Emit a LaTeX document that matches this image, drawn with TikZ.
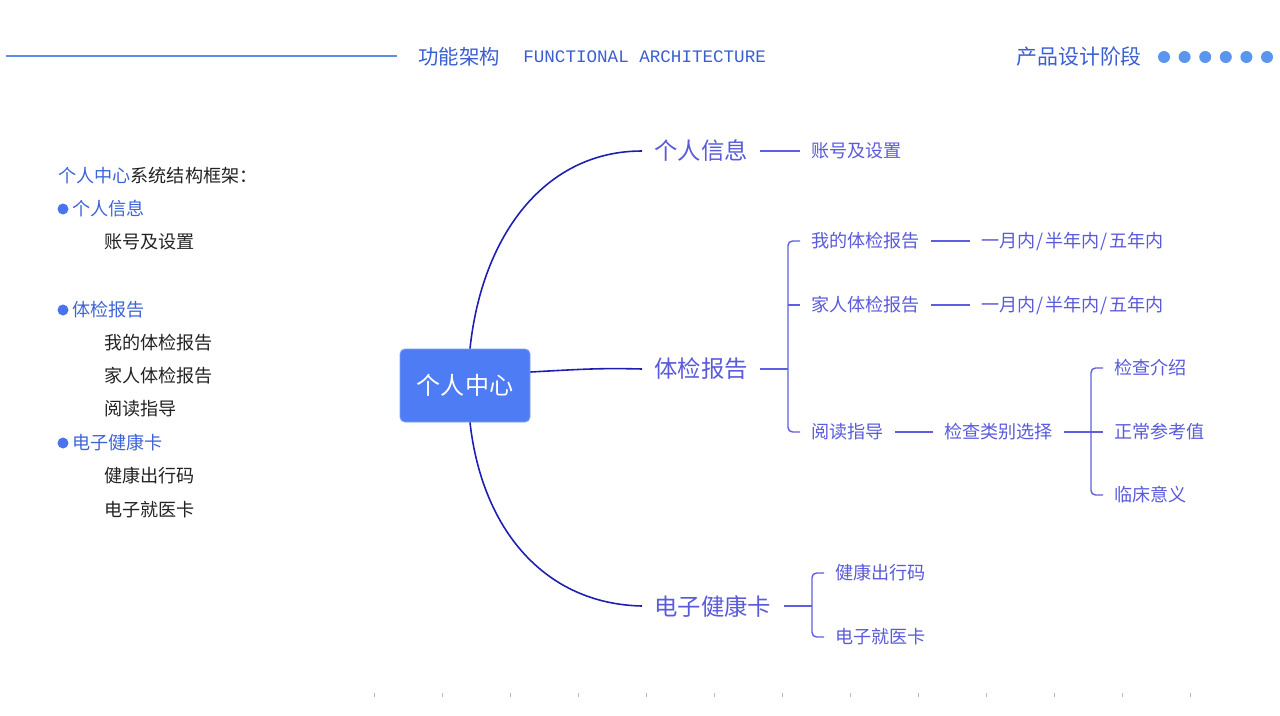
\documentclass[tikz,border=0pt]{standalone}
\usepackage{fontspec}
\setmainfont{Noto Sans CJK SC}
\newfontfamily\headmono{Liberation Mono}
\definecolor{headblue}{HTML}{3B5FD2}
\definecolor{headline}{HTML}{5B8EE6}
\definecolor{dotblue}{HTML}{5C95EE}
\definecolor{listblue}{HTML}{3D64D8}
\definecolor{bulletblue}{HTML}{4A74EE}
\definecolor{listblack}{HTML}{222222}
\definecolor{hubfill}{HTML}{4E7CF4}
\definecolor{hubdraw}{HTML}{7C9EF7}
\definecolor{trunkblue}{HTML}{1E1EB2}
\definecolor{branchblue}{HTML}{5E5EE0}
\definecolor{mindtext}{HTML}{5A5ADC}
\definecolor{tickgray}{HTML}{B8B8B8}
\newcommand{\sls}{\kern0.25mm/\kern0.25mm}
\tikzset{
  headtext/.style={anchor=west, inner sep=0pt, text=headblue,
                   font=\fontsize{11.6}{13}\selectfont},
  listtext/.style={anchor=west, inner sep=0pt, text=listblack,
                   font=\fontsize{10.3}{12}\selectfont},
  listtop/.style={listtext, text=listblue},
  hub/.style={draw=hubdraw, fill=hubfill, rounded corners=1mm, line width=0.5pt,
              minimum width=26mm, minimum height=14.6mm, text=white,
              font=\fontsize{13.7}{15}\selectfont},
  mainlbl/.style={anchor=west, inner xsep=2.4mm, inner ysep=0pt, text=mindtext,
                  font=\fontsize{13.3}{15}\selectfont},
  sublbl/.style={anchor=west, inner xsep=2.2mm, inner ysep=0pt, text=mindtext,
                 font=\fontsize{10.3}{12}\selectfont},
  trunk/.style={draw=trunkblue, line width=0.9pt},
  branch/.style={draw=branchblue, line width=0.8pt},
  bracket/.style={branch, rounded corners=0.9mm},
}

\begin{document}
\begin{tikzpicture}[x=0.2mm, y=-0.2mm]
  \useasboundingbox (0,0) rectangle (1280,715);

  % header
  \draw[headline, line width=1.7pt] (6,56) -- (397,56);
  \node[headtext] (titlecn) at (418,57) {功能架构};
  \node[headtext, font=\headmono\fontsize{10}{12}\selectfont] (titleen) at (523,57) {FUNCTIONAL ARCHITECTURE};
  \node[headtext, font=\fontsize{11.9}{13}\selectfont] (stage) at (1016,57) {产品设计阶段};
  \foreach \i in {0,...,5}
    \fill[dotblue] (1164+20.6*\i,57) circle (6);

  % outline on the left
  \node[listtext] (l0) at (58,176) {{\color{listblue}个人中心}系统结构框架：};
  \fill[bulletblue] (63,209) circle (5.5);
  \node[listtop] (l1) at (72,209) {个人信息};
  \node[listtext] (l11) at (104,242) {账号及设置};
  \fill[bulletblue] (63,310) circle (5.5);
  \node[listtop] (l2) at (72,310) {体检报告};
  \node[listtext] (l21) at (104,343) {我的体检报告};
  \node[listtext] (l22) at (104,376) {家人体检报告};
  \node[listtext] (l23) at (104,409) {阅读指导};
  \fill[bulletblue] (63,443) circle (5.5);
  \node[listtop] (l3) at (72,443) {电子健康卡};
  \node[listtext] (l31) at (104,476) {健康出行码};
  \node[listtext] (l32) at (104,510) {电子就医卡};

  % mind map
  \node[hub] (hub) at (465,385.5) {个人中心};
  \node[mainlbl] (info) at (642,151) {个人信息};
  \node[mainlbl] (report) at (642,369) {体检报告};
  \node[mainlbl] (card) at (642,606) {电子健康卡};

  \draw[trunk] ([xshift=1mm]hub.north) .. controls (482,235) and (545,151) .. (info.west);
  \draw[trunk] ([yshift=2.7mm]hub.east) .. controls (585,369) and (600,368) .. (report.west);
  \draw[trunk] ([xshift=1mm]hub.south) .. controls (482,530) and (545,604) .. (card.west);

  \node[sublbl] (account) at (800,151) {账号及设置};
  \draw[branch] (info.east) -- (account.west);

  \node[sublbl] (mine) at (800,241) {我的体检报告};
  \node[sublbl] (family) at (800,305) {家人体检报告};
  \node[sublbl] (guide) at (800,432) {阅读指导};
  \node[sublbl] (minetime) at (970,241) {一月内\sls 半年内\sls 五年内};
  \node[sublbl] (familytime) at (970,305) {一月内\sls 半年内\sls 五年内};
  \node[sublbl] (category) at (933,432) {检查类别选择};
  \node[sublbl] (intro) at (1103,368) {检查介绍};
  \node[sublbl] (normal) at (1103,432) {正常参考值};
  \node[sublbl] (clinic) at (1103,495) {临床意义};
  \node[sublbl] (travel) at (824,573) {健康出行码};
  \node[sublbl] (medical) at (824,637) {电子就医卡};

  \coordinate (k2) at (788,369);
  \coordinate (k3) at (1091,432);
  \coordinate (k4) at (812,606);

  \draw[branch] (report.east) -- (k2);
  \draw[bracket] (mine.west) -| (k2 |- guide.west) -- (guide.west);
  \draw[branch] (k2 |- family.west) -- (family.west);
  \draw[branch] (mine.east) -- (minetime.west);
  \draw[branch] (family.east) -- (familytime.west);
  \draw[branch] (guide.east) -- (category.west);

  \draw[branch] (category.east) -- (normal.west);
  \draw[bracket] (intro.west) -| (k3 |- clinic.west) -- (clinic.west);

  \draw[branch] (card.east) -- (k4);
  \draw[bracket] (travel.west) -| (k4 |- medical.west) -- (medical.west);

  % faint ticks at the bottom
  \foreach \i in {0,...,12}
    \draw[tickgray, line width=0.3pt] (374+68*\i,693) -- ++(0,4);
\end{tikzpicture}
\end{document}
